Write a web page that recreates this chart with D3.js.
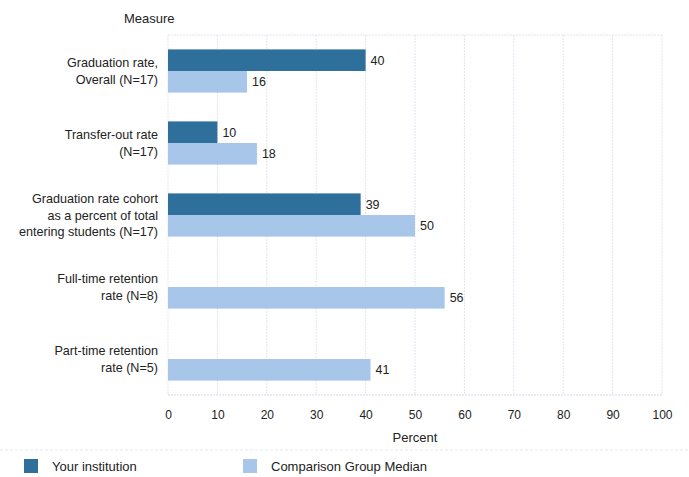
<!DOCTYPE html>
<html><head><meta charset="utf-8">
<script src="https://cdn.jsdelivr.net/npm/d3@7"></script>
<style>body{margin:0;background:#fff}svg{font-family:"Liberation Sans",Arial,sans-serif}</style>
</head><body><svg id="c" width="689" height="477"></svg>
<script>
const categories = [
  ["Graduation rate,", "Overall (N=17)"],
  ["Transfer-out rate", "(N=17)"],
  ["Graduation rate cohort", "as a percent of total", "entering students (N=17)"],
  ["Full-time retention", "rate (N=8)"],
  ["Part-time retention", "rate (N=5)"]
];
const seriesNames = ["Your institution", "Comparison Group Median"];
const yourInstitution = [40, 10, 39, null, null];
const comparisonMedian = [16, 18, 50, 56, 41];
const xTicks = [0,10,20,30,40,50,60,70,80,90,100];
const colors = ["#2f6f9c", "#a8c6ea"];

const svg = d3.select("#c");
const m = {l:168, r:662, t:35, b:395};
const x = d3.scaleLinear().domain([0,100]).range([m.l, m.r]);
const y = d3.scaleBand().domain(d3.range(categories.length)).range([m.t, m.b]).paddingInner(0.4).paddingOuter(0.2);
const sub = d3.scaleBand().domain([0,1]).range([0, y.bandwidth()]);

// grid
const g = svg.append("g");
g.selectAll("line.v").data(xTicks).join("line")
  .attr("x1", d=>x(d)).attr("x2", d=>x(d)).attr("y1", m.t).attr("y2", m.b)
  .attr("stroke", "#e2e5ef").attr("stroke-width", 1).attr("stroke-dasharray", "2,1");
g.append("line").attr("x1", m.l).attr("x2", m.r).attr("y1", m.t).attr("y2", m.t).attr("stroke", "#e2e5ef").attr("stroke-dasharray","2,1");
g.append("line").attr("x1", m.l).attr("x2", m.r).attr("y1", m.b).attr("y2", m.b).attr("stroke", "#d3d7e5").attr("stroke-dasharray","2,1");

// x axis labels
const xa = svg.append("g").attr("transform", `translate(0,${m.b})`)
  .call(d3.axisBottom(x).tickValues(xTicks).tickSize(0).tickPadding(15));
xa.select(".domain").remove();
xa.selectAll("text").attr("font-size", 12).attr("fill", "#222").attr("font-family", "Liberation Sans, Arial, sans-serif");

svg.append("text").attr("x", (m.l+m.r)/2).attr("y", 442).attr("text-anchor","middle")
  .attr("font-size", 13).attr("fill","#222").text("Percent");
svg.append("text").attr("x", 124).attr("y", 23).attr("font-size", 13).attr("fill","#222").text("Measure");

// bars
const series = [yourInstitution, comparisonMedian];
series.forEach((vals, si) => {
  const data = vals.map((v,i)=>({v,i})).filter(d=>d.v!=null);
  svg.append("g").selectAll("rect").data(data).join("rect")
    .attr("x", x(0)).attr("y", d=>y(d.i)+sub(si)).attr("height", sub.bandwidth())
    .attr("width", d=>x(d.v)-x(0)).attr("fill", colors[si]);
  svg.append("g").selectAll("text").data(data).join("text")
    .attr("x", d=>x(d.v)+5).attr("y", d=>y(d.i)+sub(si)+sub.bandwidth()/2+4.5)
    .attr("font-size", 12.5).attr("fill","#222").text(d=>d.v);
});

// category labels
categories.forEach((lines, i) => {
  const cy = y(i) + y.bandwidth()/2;
  const lh = 16.5;
  const t = svg.append("text").attr("text-anchor","end").attr("font-size",12.6).attr("fill","#222");
  lines.forEach((ln, k) => {
    t.append("tspan").attr("x", 158).attr("y", cy + (k - (lines.length-1)/2)*lh + 4.5).text(ln);
  });
});

// separator
svg.append("line").attr("x1", 0).attr("x2", 689).attr("y1", 450).attr("y2", 450)
  .attr("stroke", "#e8eaf0").attr("stroke-dasharray","3,2");

// legend
const lx = [24, 243];
seriesNames.forEach((n, i) => {
  svg.append("rect").attr("x", lx[i]).attr("y", 459).attr("width", 14).attr("height", 14).attr("fill", colors[i]);
  svg.append("text").attr("x", lx[i]+28).attr("y", 471).attr("font-size", 13).attr("fill","#222").text(n);
});
</script></body></html>
